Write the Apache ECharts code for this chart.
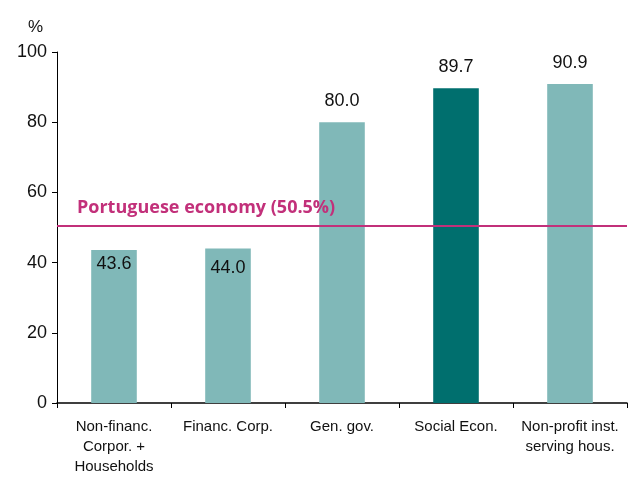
<!DOCTYPE html>
<html>
<head>
    <meta charset="UTF-8">
    <title>Share by sector</title>
    <style>
        html, body { margin: 0; padding: 0; background: #fff; }
        #chart { width: 641px; height: 477px; }
    </style>
    <script src="https://cdn.jsdelivr.net/npm/echarts@6/dist/echarts.min.js"></script>
</head>
<body>
<div id="chart"></div>
<script>
    var categories = ['Non-financ.\nCorpor. +\nHouseholds', 'Financ. Corp.', 'Gen. gov.', 'Social Econ.', 'Non-profit inst.\nserving hous.'];
    var values = [43.6, 44.0, 80.0, 89.7, 90.9];
    var insideLabel = [true, true, false, false, false];
    var highlight = [false, false, false, true, false];
    var economyValue = 50.5;
    var economyLabel = 'Portuguese economy (50.5%)';

    var light = '#80b8b8';
    var dark = '#006f6e';
    var pink = '#c2307a';

    // the second inside label sits a bit lower in the original
    var insideGap = [5, 10];

    var barData = values.map(function (v, i) {
        return {
            value: v,
            itemStyle: {color: highlight[i] ? dark : light},
            label: insideLabel[i]
                ? {position: 'insideTop', distance: insideGap[i]}
                : {position: 'top', distance: 12}
        };
    });

    var chart = echarts.init(document.getElementById('chart'), null, {renderer: 'canvas'});
    chart.setOption({
        animation: false,
        grid: {left: 57, right: 14, top: 52, bottom: 72, containLabel: false},
        xAxis: {
            type: 'category',
            data: categories,
            axisLine: {lineStyle: {color: '#000', width: 1.5}},
            axisTick: {show: true, length: 5, lineStyle: {color: '#000'}},
            axisLabel: {
                color: '#111', fontSize: 15, lineHeight: 20, margin: 14,
                fontFamily: '"Liberation Sans Narrow", "Liberation Sans", Arial, sans-serif',
                interval: 0
            }
        },
        yAxis: {
            type: 'value',
            min: 0, max: 100, interval: 20,
            name: '%',
            nameLocation: 'end',
            nameGap: 16,
            nameTextStyle: {color: '#111', fontSize: 17, fontFamily: '"Liberation Sans", Arial, sans-serif', align: 'right', padding: [0, 14, 0, 0]},
            axisLine: {show: true, lineStyle: {color: '#000', width: 1}},
            axisTick: {show: true, inside: false, length: 5, lineStyle: {color: '#000'}},
            axisLabel: {color: '#111', fontSize: 18, margin: 10, fontFamily: '"Liberation Sans", Arial, sans-serif'},
            splitLine: {show: false}
        },
        series: [{
            type: 'bar',
            data: barData,
            barWidth: '40%',
            label: {
                show: true,
                color: '#111',
                fontSize: 18,
                fontFamily: '"Liberation Sans", Arial, sans-serif',
                formatter: function (p) { return p.value.toFixed(1); }
            },
            markLine: {
                symbol: 'none',
                silent: true,
                lineStyle: {color: pink, width: 2, type: 'solid'},
                label: {
                    show: true,
                    position: 'insideStartTop',
                    formatter: economyLabel,
                    color: pink,
                    fontSize: 18,
                    fontWeight: 'bold',
                    fontFamily: '"Open Sans", Lato, sans-serif',
                    distance: [20, 9]
                },
                data: [{yAxis: economyValue}]
            }
        }]
    });
</script>
</body>
</html>
